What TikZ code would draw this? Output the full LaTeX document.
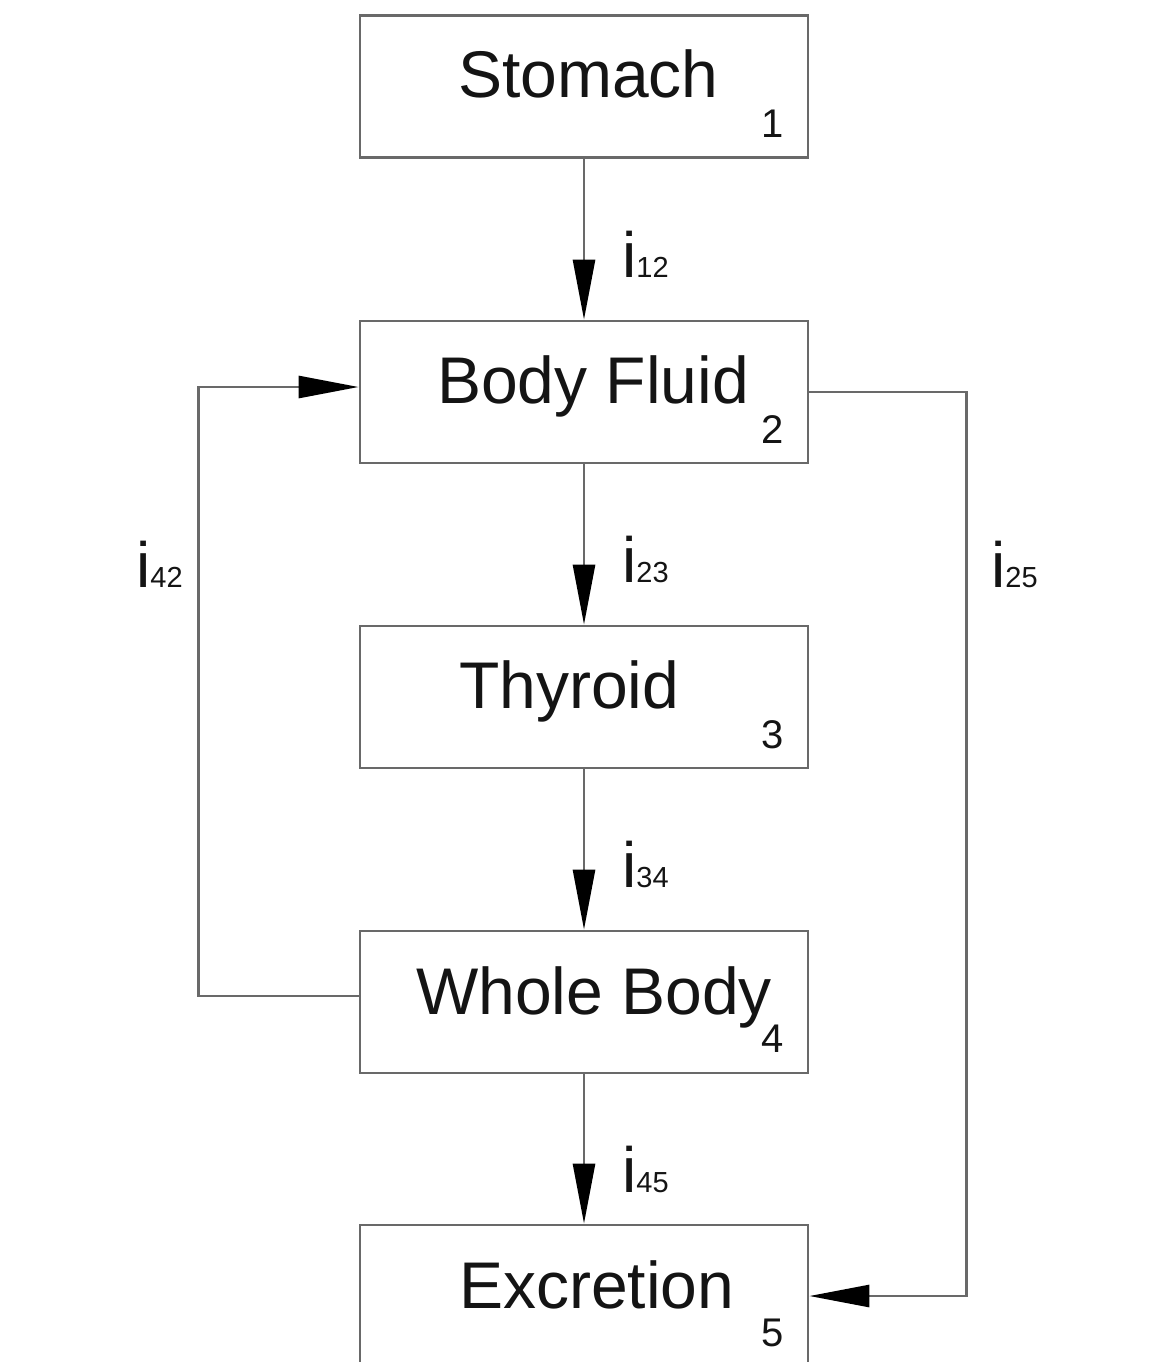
\documentclass[tikz,border=0pt]{standalone}
\usepackage{fontspec}
\setmainfont{Liberation Sans}
\usetikzlibrary{arrows.meta}
\usetikzlibrary{positioning}

\definecolor{linegray}{RGB}{105,105,105}
\definecolor{inkblack}{RGB}{20,20,20}

\newcommand{\flowlabel}[1]{i{\fontsize{29}{29}\selectfont #1}}

\begin{document}
\begin{tikzpicture}[x=1pt,y=-1pt,
  box/.style={draw=linegray, line width=2.8pt, minimum width=448pt, minimum height=142pt, inner sep=0pt},
  title/.style={inner sep=0pt, text=inkblack, font=\fontsize{66}{70}\selectfont},
  num/.style={inner sep=0pt, text=inkblack, font=\fontsize{40}{40}\selectfont},
  lbl/.style={inner sep=0pt, text=inkblack, font=\fontsize{64}{66}\selectfont},
  flow/.style={draw=linegray, line width=2.8pt, -{Triangle[length=60pt,width=22pt,color=black]}}]

 \useasboundingbox (0,0) rectangle (1167,1362);

 % compartments
 \node[box] (stomach)   at (584,86.5)  {};
 \node[box] (fluid)     at (584,392)   {};
 \node[box] (thyroid)   at (584,697)   {};
 \node[box] (wholebody) at (584,1002)  {};
 \node[box] (excretion) at (584,1296)  {};

 \node[title, anchor=base west] (stomachtxt)   at (458,98)   {Stomach};
 \node[title, anchor=base west] (fluidtxt)     at (437,403)  {Body Fluid};
 \node[title, anchor=base west] (thyroidtxt)   at (459,708)  {Thyroid};
 \node[title, anchor=base west] (wholebodytxt) at (416,1014) {Whole Body};
 \node[title, anchor=base west] (excretiontxt) at (459,1308) {Excretion};

 \node[num, anchor=base] (n1) at (773,138)  {1};
 \node[num, anchor=base] (n2) at (773,443)  {2};
 \node[num, anchor=base] (n3) at (773,748)  {3};
 \node[num, anchor=base] (n4) at (773,1052) {4};
 \node[num, anchor=base] (n5) at (773,1346) {5};

 % transfers
 \draw[flow] (stomach) -- (fluid);
 \draw[flow] (fluid) -- (thyroid);
 \draw[flow] (thyroid) -- (wholebody);
 \draw[flow] (wholebody) -- (excretion);

 \draw[flow] ([yshift=6pt]wholebody.west) -- ++(-160,0) |- ([yshift=5pt]fluid.west);
 \draw[flow] (fluid.east) -- ++(157,0) |- (excretion.east);

 \node[lbl, anchor=base west] (i12) at (622,277) {\flowlabel{12}};
 \node[lbl, anchor=base west] (i23) at (622,582) {\flowlabel{23}};
 \node[lbl, anchor=base west] (i34) at (622,887) {\flowlabel{34}};
 \node[lbl, anchor=base west] (i45) at (622,1192) {\flowlabel{45}};
 \node[lbl, anchor=base west] (i42) at (136,587) {\flowlabel{42}};
 \node[lbl, anchor=base west] (i25) at (991,587) {\flowlabel{25}};

\end{tikzpicture}
\end{document}
